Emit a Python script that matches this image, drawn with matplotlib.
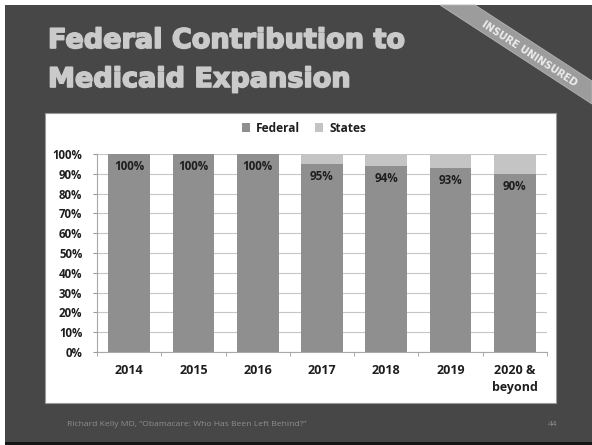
import matplotlib
matplotlib.use("Agg")
import matplotlib.pyplot as plt
from matplotlib.patches import Rectangle, Polygon
import matplotlib.patheffects as pe
import numpy as np

categories = ["2014", "2015", "2016", "2017", "2018", "2019", "2020 &\nbeyond"]
federal = [100, 100, 100, 95, 94, 93, 90]
states = [0, 0, 0, 5, 6, 7, 10]
bar_labels = ["100%", "100%", "100%", "95%", "94%", "93%", "90%"]
yticks = list(range(0, 101, 10))
ytick_labels = [f"{v}%" for v in yticks]

W, H = 592, 445
fig = plt.figure(figsize=(W / 100, H / 100), dpi=100, facecolor="white")

FONT = "Open Sans"

# background in pixel coordinates
bg = fig.add_axes([0, 0, 1, 1])
bg.set_xlim(0, W)
bg.set_ylim(H, 0)
bg.axis("off")
bg.add_patch(Rectangle((5, 5), W - 5, H - 5, facecolor="#474747", edgecolor="none"))
bg.add_patch(Rectangle((5, 442), W - 5, 3, facecolor="#151515", edgecolor="none"))
bg.add_patch(Rectangle((45, 113), 511, 290, facecolor="white", edgecolor="#9a9a9a", lw=0.8))
# ribbon
bg.add_patch(Polygon([(440, 5), (475, 5), (592, 81), (592, 104)], closed=True,
                     facecolor="#9c9c9c", edgecolor="#b5b5b5", lw=0.6))
bg.text(529, 54, "INSURE UNINSURED", rotation=-33, ha="center", va="center",
        fontsize=7.2, fontweight="bold", color="#ececec", family="DejaVu Sans",
        rotation_mode="anchor")

# title
title_kw = dict(fontsize=19.5, fontweight="bold", color="#cacaca", family="DejaVu Sans",
                ha="left", va="baseline",
                path_effects=[pe.withStroke(linewidth=1.2, foreground="#cacaca")])
bg.text(48, 48, "Federal Contribution to", **title_kw)
bg.text(48, 87, "Medicaid Expansion", **title_kw)

# footer
bg.text(67, 425, "Richard Kelly MD, \u201cObamacare: Who Has Been Left Behind?\u201d",
        fontsize=6.1, color="#8e8e8e", family=FONT, va="center", ha="left")
bg.text(553, 425, "44", fontsize=6.0, color="#8e8e8e", family=FONT,
        va="center", ha="center")

# chart
ax = fig.add_axes([97 / W, 1 - 352 / H, 450 / W, 198 / H])
ax.set_facecolor("white")
x = np.arange(len(categories))
ax.bar(x, federal, width=0.65, color="#8f8f8f", label="Federal", zorder=2)
ax.bar(x, states, width=0.65, bottom=federal, color="#c4c4c4", label="States", zorder=2)
for xi, v, lab in zip(x, federal, bar_labels):
    ax.annotate(lab, (xi, v), xytext=(0, -8.8), textcoords="offset points",
                ha="center", va="center", fontsize=8.4, fontweight="bold",
                color="#1e1e1e", family=FONT, zorder=3)

ax.set_xlim(-0.5, len(categories) - 0.5)
ax.set_ylim(0, 100)
ax.set_yticks(yticks)
ax.set_yticklabels(ytick_labels, fontsize=8.3, fontweight="bold", family=FONT, color="#1e1e1e")
ax.set_xticks(x)
ax.set_xticklabels(categories, fontsize=9.0, fontweight="bold", family=FONT, color="#1e1e1e",
                   linespacing=1.4, va="top")
ax.set_xticks(np.arange(-0.5, len(categories), 1.0), minor=True)
ax.tick_params(axis="x", which="major", length=0, pad=9)
ax.tick_params(axis="x", which="minor", length=3, color="#9a9a9a", direction="out")
ax.tick_params(axis="y", length=3, color="#9a9a9a", pad=7.5)
ax.yaxis.grid(True, color="#c6c6c6", lw=0.8, zorder=0)
ax.set_axisbelow(True)
for s in ["top", "right"]:
    ax.spines[s].set_visible(False)
for s in ["left", "bottom"]:
    ax.spines[s].set_color("#a8a8a8")
    ax.spines[s].set_linewidth(0.8)

leg = fig.legend(loc="center", bbox_to_anchor=(304 / W, 1 - 128 / H), ncol=2,
                 frameon=False, handlelength=0.7, handleheight=0.7, handletextpad=0.5,
                 columnspacing=1.2, prop={"family": FONT, "weight": "bold", "size": 8.6})
for t in leg.get_texts():
    t.set_color("#1e1e1e")

fig.savefig("out.png", dpi=100, facecolor="white")
